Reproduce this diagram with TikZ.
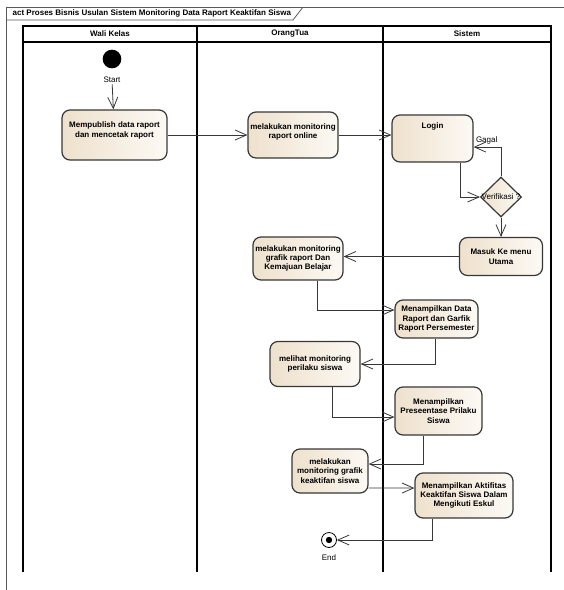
\documentclass[tikz,border=0pt]{standalone}
\usepackage{fontspec}
\setmainfont{Liberation Sans}
\usetikzlibrary{arrows.meta,shapes.geometric}
\definecolor{actfill}{RGB}{238,225,205}
\definecolor{actlight}{RGB}{252,249,244}
\definecolor{actline}{RGB}{55,55,55}

\begin{document}
\begin{tikzpicture}[x=0.75pt,y=-0.75pt,>={Straight Barb[length=8.5pt,width=7.5pt]},
        font=\fontsize{6}{7}\selectfont,
        act/.style={draw=actline,line width=0.9pt,rounded corners=6pt,left color=actfill,right color=actlight,
                    align=center,inner sep=1pt,font=\fontsize{6}{7}\selectfont\bfseries},
        flow/.style={->,draw=actline,line width=0.6pt},
        lane/.style={line width=1pt},
        hdr/.style={font=\fontsize{6}{7}\selectfont\bfseries}]
                \useasboundingbox (0,0) rectangle (564,590);

                % frame
                \draw[gray!70!black,line width=0.6pt] (6,590) -- (6,7) -- (564,7);
                \draw[gray!70!black,line width=0.6pt] (6,20) -- (293,20) -- (303,7);
                \node[hdr,anchor=west] (title) at (8,13.5) {act Proses Bisnis Usulan Sistem Monitoring Data Raport Keaktifan Siswa};

                % swimlanes
                \draw[lane] (23,572) -- (23,26) -- (551,26) -- (551,572);
                \draw[lane] (23,42) -- (551,42);
                \draw[lane] (197,26) -- (197,572);
                \draw[lane] (383,26) -- (383,572);
                \node[hdr] (wali)   at (110,34) {Wali Kelas};
                \node[hdr] (ortu)   at (290,34) {OrangTua};
                \node[hdr] (sistem) at (467,34) {Sistem};

                % activities
                \node[circle,fill=black,minimum size=14pt,inner sep=0pt] (start) at (112,59) {};
                \node[inner sep=1pt]  (startlbl) at (112,80) {Start};
                \node[act,minimum width=78.75pt,minimum height=37.5pt,text depth=8pt] (publish) at (114.5,135)
                    {Mempublish data raport\\dan mencetak raport};
                \node[act,minimum width=67.5pt,minimum height=34.5pt,text depth=6pt] (online) at (293,135)
                    {melakukan monitoring\\raport online};
                \node[act,minimum width=60.75pt,minimum height=35.25pt,text depth=20pt] (login) at (432.5,138.5) {Login};
                \node[diamond,draw=actline,line width=0.9pt,left color=actfill,right color=actlight,
                      minimum width=30.75pt,minimum height=30pt,inner sep=0pt,
                      label={center:Verifikasi ?}] (verif) at (501,197) {};
                \node[act,minimum width=62.25pt,minimum height=28.5pt] (masuk) at (501,256.5) {Masuk Ke menu\\Utama};
                \node[act,minimum width=67.5pt,minimum height=32.25pt] (grafik) at (298,258.5)
                    {melakukan monitoring\\grafik raport Dan\\Kemajuan Belajar};
                \node[act,minimum width=62.25pt,minimum height=28.5pt] (data) at (436.5,319)
                    {Menampilkan Data\\Raport dan Garfik\\Raport Persemester};
                \node[act,minimum width=67.5pt,minimum height=33.75pt] (perilaku) at (315,364)
                    {melihat monitoring\\perilaku siswa};
                \node[act,minimum width=65.25pt,minimum height=36pt] (persen) at (438.5,411)
                    {Menampilkan\\Preseentase Prilaku\\Siswa};
                \node[act,minimum width=57pt,minimum height=33pt] (keaktifan) at (330,471)
                    {melakukan\\monitoring grafik\\keaktifan siswa};
                \node[act,minimum width=73.5pt,minimum height=33.75pt] (aktifitas) at (464,495.5)
                    {Menampilkan Aktifitas\\Keaktifan Siswa Dalam\\Mengikuti Eskul};
                \node[circle,draw=black,line width=0.6pt,minimum size=11.25pt,inner sep=0pt] (end) at (329,540) {};
                \fill (end) circle (2.4pt);
                \node[inner sep=1pt] (endlbl) at (329,558) {End};

                % control flow
                \draw[flow] (startlbl) -- (publish);
                \draw[flow] (publish) -- (online);
                \draw[flow] (online) -- (online -| login.west);
                \draw[flow] ([xshift=20.6pt]login.south) |- (verif.west);
                \draw[flow] (verif.north) |- node[pos=1,above right,inner sep=1.5pt] {Gagal} ([yshift=-6.4pt]login.east);
                \draw[flow] (verif) -- (masuk);
                \draw[flow] (masuk) -- (masuk -| grafik.east);
                \draw[flow] ([xshift=14.25pt]grafik.south) |- ([yshift=6.75pt]data.west);
                \draw[flow] ([xshift=-1.1pt]data.south) |- (perilaku.east);
                \draw[flow] ([xshift=12.75pt]perilaku.south) |- ([yshift=-4.5pt]persen.west);
                \draw[flow] ([xshift=-11.6pt]persen.south) |- ([yshift=5.25pt]keaktifan.east);
                \draw[flow] ([yshift=-12.75pt]keaktifan.east) -- ([yshift=5.6pt]aktifitas.west);
                \draw[flow] ([xshift=-24pt]aktifitas.south) |- (end);
\end{tikzpicture}
\end{document}
